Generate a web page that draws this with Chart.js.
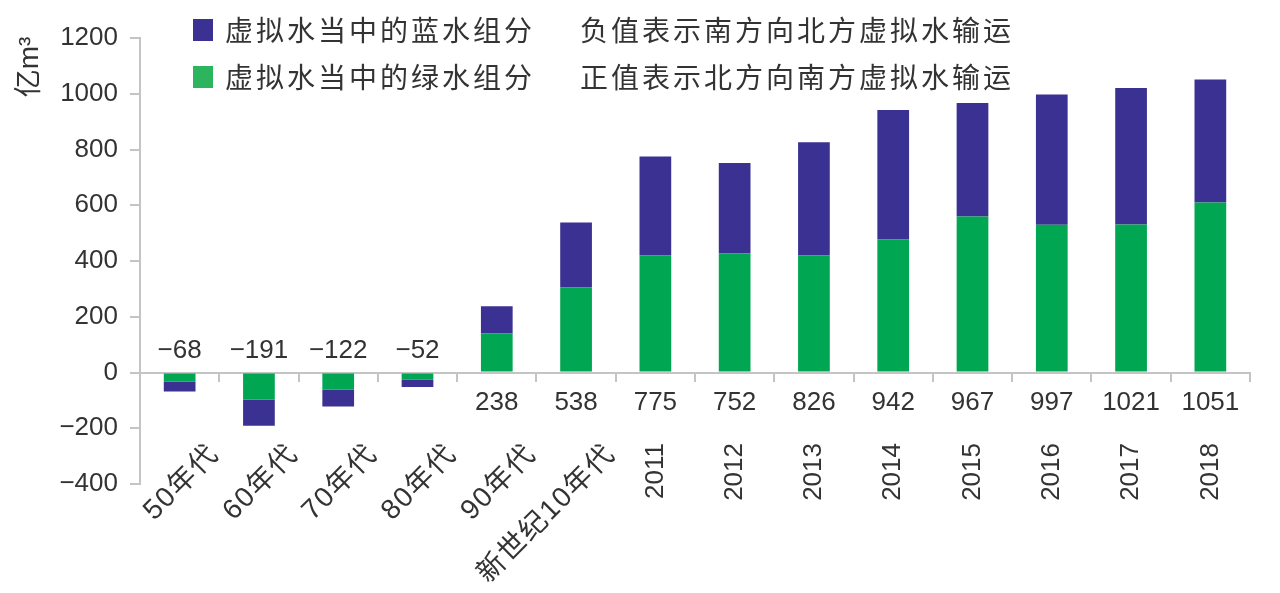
<!DOCTYPE html>
<html>
<head>
<meta charset="utf-8">
<script src="https://cdn.jsdelivr.net/npm/chart.js@4.4.1/dist/chart.umd.min.js"></script>
<style>
  html, body { margin: 0; padding: 0; background: #fff; }
  #wrap { width: 1280px; height: 593px; }
</style>
</head>
<body>
<div id="wrap"><canvas id="chart" width="1280" height="593"></canvas></div>
<script>
// Chart data
const categories = ['50年代', '60年代', '70年代', '80年代', '90年代', '新世纪10年代',
    '2011', '2012', '2013', '2014', '2015', '2016', '2017', '2018'];
const greenWater = [-33, -97, -62, -26, 140, 305, 421, 427, 420, 478, 560, 530, 531, 610];
const blueWater = [-35, -94, -60, -26, 98, 233, 354, 325, 406, 464, 407, 467, 490, 441];
const totals = [-68, -191, -122, -52, 238, 538, 775, 752, 826, 942, 967, 997, 1021, 1051];
const yTicks = [-400, -200, 0, 200, 400, 600, 800, 1000, 1200];
const legendLabels = ['虚拟水当中的蓝水组分', '虚拟水当中的绿水组分'];
const legendNotes = ['负值表示南方向北方虚拟水输运', '正值表示北方向南方虚拟水输运'];
const yTitle = '亿m³';

const BLUE = '#3b3192';
const GREEN = '#00a651';
const AXIS = '#c4c4c4';
const TEXT = '#333333';
const FONT = "'Liberation Sans', 'Noto Sans CJK SC', sans-serif";
const CJK = "'Noto Sans CJK SC', sans-serif";

// replace hyphen with a real minus sign
const fmt = v => String(v).replace('-', '\u2212');

const annotations = {
    id: 'annotations',
    afterDraw(chart) {
        const ctx = chart.ctx;
        const x = chart.scales.x;
        const y = chart.scales.y;
        const zero = y.getPixelForValue(0);

        ctx.save();

        // legend
        const legendColors = [BLUE, '#2db55d'];
        const rowY = [30, 77];
        ctx.font = '28px ' + CJK;
        ctx.fillStyle = TEXT;
        ctx.textBaseline = 'middle';
        ctx.textAlign = 'left';
        ctx.letterSpacing = '3px';
        legendLabels.forEach((label, i) => {
            ctx.fillStyle = legendColors[i];
            ctx.fillRect(193, rowY[i] - 11, 20, 22);
            ctx.fillStyle = TEXT;
            ctx.fillText(label, 225, rowY[i]);
            ctx.fillText(legendNotes[i], 580, rowY[i]);
        });
        ctx.letterSpacing = '0px';

        // y axis title
        ctx.save();
        ctx.translate(30, 67);
        ctx.rotate(-Math.PI / 2);
        ctx.font = '28px ' + FONT;
        ctx.textAlign = 'center';
        ctx.fillText(yTitle, 0, 0);
        ctx.restore();

        // value labels
        ctx.font = '26px ' + FONT;
        ctx.textAlign = 'center';
        totals.forEach((v, i) => {
            const px = x.getPixelForValue(i);
            const py = v < 0 ? zero - 22 : zero + 30;
            ctx.fillText(fmt(v), px, py);
        });

        // category labels: decades at 45 degrees, years vertical
        categories.forEach((label, i) => {
            const px = x.getPixelForValue(i);
            ctx.save();
            if (/年代/.test(label)) {
                ctx.font = '28px ' + FONT;
                ctx.letterSpacing = '1.5px';
                ctx.translate(px + 35, 450);
                ctx.rotate(-Math.PI / 4);
            } else {
                ctx.font = '26px ' + FONT;
                ctx.translate(px, 443);
                ctx.rotate(-Math.PI / 2);
            }
            ctx.textAlign = 'right';
            ctx.textBaseline = 'middle';
            ctx.fillText(label, 0, 0);
            ctx.restore();
        });

        ctx.restore();
    }
};

new Chart(document.getElementById('chart').getContext('2d'), {
    type: 'bar',
    data: {
        labels: categories,
        datasets: [{
            label: legendLabels[1],
            data: greenWater,
            backgroundColor: GREEN,
            barPercentage: 0.4,
            categoryPercentage: 1
        }, {
            label: legendLabels[0],
            data: blueWater,
            backgroundColor: BLUE,
            barPercentage: 0.4,
            categoryPercentage: 1
        }]
    },
    options: {
        responsive: false,
        animation: false,
        layout: {
            padding: { top: 38, right: 30, bottom: 109, left: 0 }
        },
        plugins: {
            legend: { display: false },
            tooltip: { enabled: false }
        },
        scales: {
            x: {
                stacked: true,
                position: { y: 0 },
                offset: true,
                border: { color: AXIS, width: 2 },
                grid: { offset: true, drawOnChartArea: false, tickLength: 8, color: AXIS, lineWidth: 2 },
                ticks: { display: false }
            },
            y: {
                stacked: true,
                min: -400,
                max: 1200,
                afterBuildTicks: s => { s.ticks = yTicks.map(v => ({ value: v })); },
                afterFit: s => { s.width = 140; },
                border: { color: AXIS, width: 2 },
                grid: { drawOnChartArea: false, tickLength: 10, color: AXIS, lineWidth: 2 },
                ticks: {
                    font: { family: FONT, size: 26 },
                    color: TEXT,
                    padding: 12,
                    callback: v => fmt(v)
                }
            }
        }
    },
    plugins: [annotations]
});
</script>
</body>
</html>
